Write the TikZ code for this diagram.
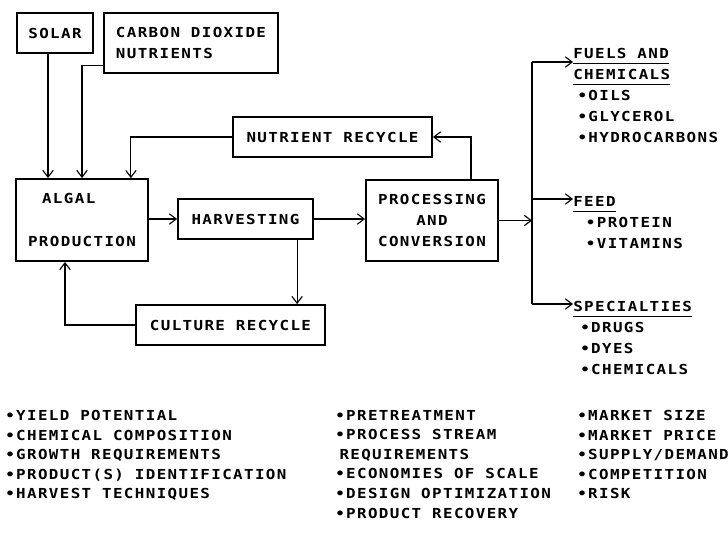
\documentclass[tikz,border=0pt]{standalone}
\usepackage{fontspec}
\usetikzlibrary{arrows.meta,positioning}
\newfontfamily\plotfont[FakeStretch=1.15, LetterSpace=10]{DejaVu Sans Mono Bold}
\newcommand{\plotline}[1]{\setbox0\hbox{#1}\rlap{\rule[-4pt]{\wd0}{0.9pt}}\box0}

\begin{document}
\begin{tikzpicture}[
  x=0.025cm, y=-0.025cm,
  box/.style={draw, line width=1.3pt, minimum height=1cm, inner sep=2pt, font={\plotfont\fontsize{9.8pt}{15pt}\selectfont}},
  arr/.style={-{Straight Barb[length=1.7mm,width=2.6mm]}, line width=0.8pt},
  wire/.style={line width=0.8pt},
  outlist/.style={align=left, anchor=north west, inner sep=0pt, font={\plotfont\fontsize{9.8pt}{15pt}\selectfont}},
  factlist/.style={align=left, anchor=north west, inner sep=0pt, font={\plotfont\fontsize{9.8pt}{13.9pt}\selectfont}}
]
\useasboundingbox (0,0) rectangle (728,541);
% inputs
\node[box, minimum width=1.9cm] (solar) at (55,33) {SOLAR};
\node[box, minimum width=4.35cm, minimum height=1.5cm, align=left] (carbon) at (191,43) {CARBON DIOXIDE\\NUTRIENTS};
\node[box, minimum width=4.975cm] (nutrient) at (332.5,137) {NUTRIENT RECYCLE};
% main line
\node[box, minimum width=3.3cm, minimum height=2.05cm, align=left] (algal) at (82,220) {\hspace{0.35cm}ALGAL\\[15pt]PRODUCTION};
\node[box, minimum width=3.375cm] (harv) at (245.5,219) {HARVESTING};
\node[box, minimum width=3.3cm, minimum height=2.025cm, align=center] (proc) at (432,220.5) {PROCESSING\\AND\\CONVERSION};
\node[box, minimum width=4.725cm] (culture) at (230.5,325) {CULTURE RECYCLE};
% products
\node[outlist] (fuels) at (573,48) {\plotline{FUELS AND}\\\plotline{CHEMICALS}\\\hspace{3pt}\textbullet OILS\\\hspace{3pt}\textbullet GLYCEROL\\\hspace{3pt}\textbullet HYDROCARBONS};
\node[outlist] (feed) at (573,196) {\plotline{FEED}\\\hspace{9pt}\textbullet PROTEIN\\\hspace{9pt}\textbullet VITAMINS};
\node[outlist] (spec) at (573,301) {\plotline{SPECIALTIES}\\\hspace{5pt}\textbullet DRUGS\\\hspace{5pt}\textbullet DYES\\\hspace{5pt}\textbullet CHEMICALS};
% issues under each stage
\node[factlist] (prodfacts) at (5,410) {\textbullet YIELD POTENTIAL\\\textbullet CHEMICAL COMPOSITION\\\textbullet GROWTH REQUIREMENTS\\\textbullet PRODUCT(S) IDENTIFICATION\\\textbullet HARVEST TECHNIQUES};
\node[factlist] (procfacts) at (335,410) {\textbullet PRETREATMENT\\\textbullet PROCESS STREAM\\\hspace{3pt}REQUIREMENTS\\\textbullet ECONOMIES OF SCALE\\\textbullet DESIGN OPTIMIZATION\\\textbullet PRODUCT RECOVERY};
\node[factlist] (marketfacts) at (577,410) {\textbullet MARKET SIZE\\\textbullet MARKET PRICE\\\textbullet SUPPLY/DEMAND\\\textbullet COMPETITION\\\textbullet RISK};

\coordinate (s1) at ([xshift=-0.175cm]solar.south);
\coordinate (c1) at ([yshift=0.2cm]carbon.south west);
\coordinate (h1) at ([xshift=1.29cm]harv.south);
\coordinate (split) at (532,220.5);
\coordinate (b1) at (532,62);
\coordinate (b2) at (532,199);
\coordinate (b3) at (532,304);

\draw[arr] (s1) -- (s1 |- algal.north);
\draw[arr] (c1) -| (algal.north);
\draw[arr] (nutrient.west) -| ([xshift=-0.45cm]algal.north east);
\draw[arr] ([xshift=0.975cm]proc.north) |- (nutrient.east);
\draw[arr] (harv.west -| algal.east) -- (harv.west);
\draw[arr] (harv.east) -- (harv.east -| proc.west);
\draw[arr] (h1) -- (h1 |- culture.north);
\draw[arr] (culture.west) -| ([xshift=-0.425cm]algal.south);
\draw[arr] (proc.east |- split) -- (split);
\draw[wire] (b1) -- (b3);
\draw[arr] (b1) -- (b1 -| fuels.west);
\draw[arr] (b2) -- (b2 -| feed.west);
\draw[arr] (b3) -- (b3 -| spec.west);
\end{tikzpicture}
\end{document}
